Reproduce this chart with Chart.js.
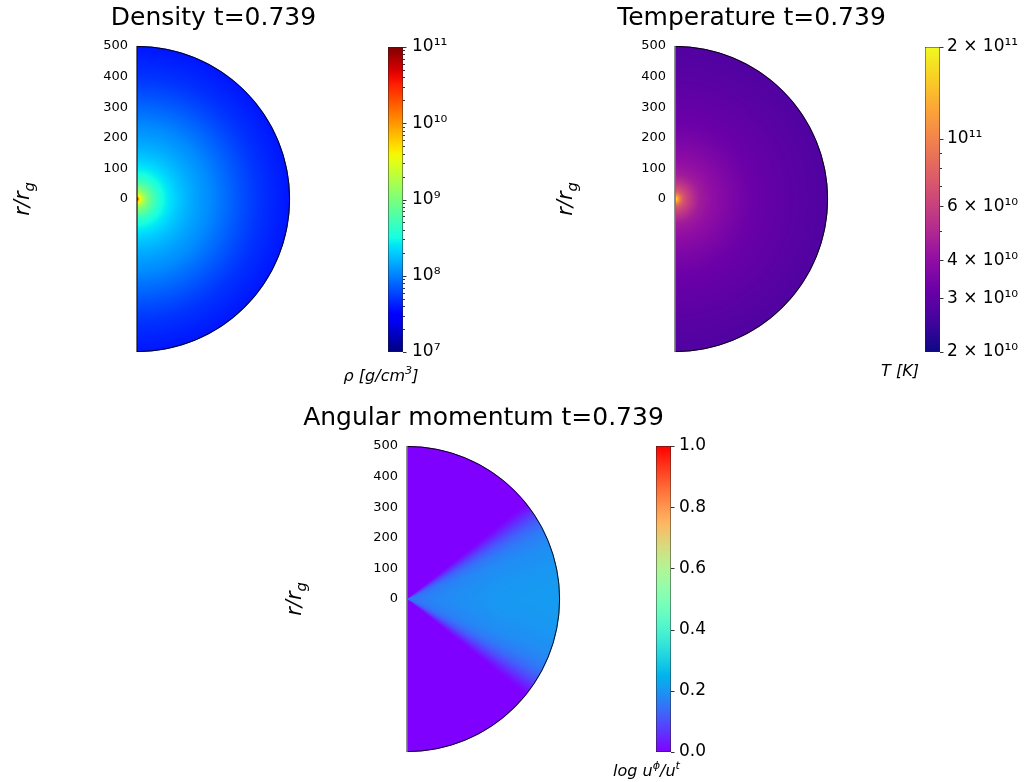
<!DOCTYPE html>
<html lang="en">

<head>
    <meta charset="UTF-8">
    <title>Density / Temperature / Angular momentum t=0.739</title>
    <style>
        body {
            margin: 0;
            background: #fff;
            width: 1030px;
            height: 782px;
            position: relative;
            overflow: hidden;
        }

        canvas {
            position: absolute;
            left: 0;
            top: 0;
        }
    </style>
</head>

<body>

    <canvas id="rhoMap" width="1030" height="782"></canvas>
    <canvas id="rhoBar" width="1030" height="782"></canvas>
    <canvas id="tMap" width="1030" height="782"></canvas>
    <canvas id="tBar" width="1030" height="782"></canvas>
    <canvas id="lMap" width="1030" height="782"></canvas>
    <canvas id="lBar" width="1030" height="782"></canvas>

    <script src="https://cdn.jsdelivr.net/npm/chart.js"></script>

    <script>
        // 반지름 눈금 (r/r_g)
        const radiusTicks = [0, 100, 200, 300, 400, 500];

        // 밀도 반경 분포 (r, rho [g/cm^3])
        const densityRadii = [1, 3, 10, 23, 50, 80, 130, 240, 300, 400, 500];
        const densityValues = [8e10, 2.5e10, 4e9, 1.6e9, 6.3e8, 3.3e8, 2e8, 1.1e8, 8e7, 5e7, 3.8e7];

        // 온도 반경 분포 (r, T [K])
        const tempRadii = [1, 3, 10, 25, 50, 80, 150, 250, 500];
        const tempValues = [2e11, 1.85e11, 1.26e11, 7.4e10, 5.6e10, 4.5e10, 3.8e10, 3.2e10, 2.75e10];

        // 각운동량: 적도로부터의 위도(도) 분포와 반경 계수
        const momentumAngles = [0, 10, 20, 26, 30, 33, 36, 38, 39, 90];
        const momentumValues = [0.21, 0.205, 0.19, 0.165, 0.13, 0.09, 0.04, 0.01, 0, 0];
        const momentumRadii = [0, 100, 200, 300, 500];
        const momentumScale = [0.7, 0.85, 0.92, 0.97, 1.0];

        // 컬러바 눈금
        const densityTicks = [1e7, 1e8, 1e9, 1e10, 1e11];
        const densityTickLabels = ['10⁷', '10⁸', '10⁹', '10¹⁰', '10¹¹'];
        const tempTicks = [2e10, 3e10, 4e10, 6e10, 1e11, 2e11];
        const tempTickLabels = ['2 × 10¹⁰', '3 × 10¹⁰', '4 × 10¹⁰', '6 × 10¹⁰', '10¹¹', '2 × 10¹¹'];
        const tempMinorTicks = [5e10, 7e10, 8e10, 9e10];
        const momentumTicks = [0, 0.2, 0.4, 0.6, 0.8, 1.0];
        const momentumTickLabels = ['0.0', '0.2', '0.4', '0.6', '0.8', '1.0'];

        const FONT = '"DejaVu Sans", "Liberation Sans", sans-serif';
        const PAGE_W = 1030, PAGE_H = 782;

        function lerpTable(xs, ys, v) {
            if (v <= xs[0]) return ys[0];
            if (v >= xs[xs.length - 1]) return ys[ys.length - 1];
            let k = 1;
            while (xs[k] < v) k++;
            const t = (v - xs[k - 1]) / (xs[k] - xs[k - 1]);
            return ys[k - 1] + t * (ys[k] - ys[k - 1]);
        }

        // 컬러맵
        function jet(t) {
            return [
                lerpTable([0, 0.35, 0.66, 0.89, 1], [0, 0, 1, 1, 0.5], t),
                lerpTable([0, 0.125, 0.375, 0.64, 0.91, 1], [0, 0, 1, 1, 0, 0], t),
                lerpTable([0, 0.11, 0.34, 0.65, 1], [0.5, 1, 1, 0, 0], t)
            ].map(v => v * 255);
        }

        const plasmaStops = [0, 0.1, 0.2, 0.3, 0.4, 0.5, 0.6, 0.7, 0.8, 0.9, 1];
        const plasmaRGB = [[13, 8, 135], [65, 4, 157], [106, 0, 168], [143, 13, 164], [177, 42, 144],
            [204, 71, 120], [225, 100, 98], [242, 132, 75], [252, 166, 54], [248, 208, 37], [240, 249, 33]];
        function plasma(t) {
            return [0, 1, 2].map(c => lerpTable(plasmaStops, plasmaRGB.map(p => p[c]), t));
        }

        function rainbow(t) {
            t = Math.min(1, Math.max(0, t));
            return [Math.abs(2 * t - 0.5), Math.sin(Math.PI * t), Math.cos(Math.PI * t / 2)]
                .map(v => Math.min(1, Math.max(0, v)) * 255);
        }

        function rgb(c) {
            return `rgb(${Math.round(c[0])},${Math.round(c[1])},${Math.round(c[2])})`;
        }

        // 차트 영역 위치에 맞춘 여백
        function areaPadding(area, axisW, side) {
            const right = PAGE_W - area.left - area.width;
            const bottom = PAGE_H - area.top - area.height;
            return side === 'left'
                ? { left: area.left - axisW, right: right, top: area.top, bottom: bottom }
                : { left: area.left, right: right - axisW, top: area.top, bottom: bottom };
        }

        // 첨자가 있는 텍스트 (x = 가운데, y = 기준선)
        function drawRich(ctx, parts, x, y, size, style) {
            const fontOf = p => `${style} ${p[1] ? size * 0.7 : size}px ${FONT}`;
            let total = 0;
            parts.forEach(p => { ctx.font = fontOf(p); total += ctx.measureText(p[0]).width; });
            let cx = x - total / 2;
            ctx.textAlign = 'left';
            ctx.textBaseline = 'alphabetic';
            parts.forEach(p => {
                ctx.font = fontOf(p);
                const dy = p[1] === 'sup' ? -size * 0.42 : p[1] === 'sub' ? size * 0.24 : 0;
                ctx.fillText(p[0], cx, y + dy);
                cx += ctx.measureText(p[0]).width;
            });
        }

        // 반원 필드 그리기 (차트 스케일 사용)
        function fieldPlugin(cfg) {
            return {
                id: 'field',
                beforeDatasetsDraw(chart) {
                    const { ctx, chartArea: a, scales: { x, y } } = chart;
                    const w = Math.round(a.right - a.left), h = Math.round(a.bottom - a.top);
                    const off = document.createElement('canvas');
                    off.width = w; off.height = h;
                    const octx = off.getContext('2d');
                    const img = octx.createImageData(w, h);
                    const cx = x.getPixelForValue(0), cy = y.getPixelForValue(0);
                    const R = x.getPixelForValue(500) - cx;
                    for (let j = 0; j < h; j++) {
                        for (let i = 0; i < w; i++) {
                            const px = a.left + i + 0.5, py = a.top + j + 0.5;
                            const cover = Math.min(1, Math.max(0, R - Math.hypot(px - cx, py - cy) + 0.5));
                            if (cover <= 0) continue;
                            const col = cfg.color(x.getValueForPixel(px), y.getValueForPixel(py));
                            const o = (j * w + i) * 4;
                            img.data[o] = col[0];
                            img.data[o + 1] = col[1];
                            img.data[o + 2] = col[2];
                            img.data[o + 3] = Math.round(cover * 255);
                        }
                    }
                    octx.putImageData(img, 0, 0);
                    ctx.drawImage(off, a.left, a.top);

                    ctx.save();
                    ctx.strokeStyle = '#000';
                    ctx.lineWidth = 0.9;
                    ctx.beginPath();
                    ctx.arc(cx, cy, R - 0.4, -Math.PI / 2, Math.PI / 2);
                    ctx.stroke();
                    ctx.strokeStyle = cfg.edge;
                    ctx.lineWidth = cfg.edgeWidth;
                    ctx.beginPath();
                    ctx.moveTo(cx, y.getPixelForValue(500));
                    ctx.lineTo(cx, y.getPixelForValue(-500));
                    ctx.stroke();

                    // 제목과 축 라벨
                    ctx.fillStyle = '#000';
                    ctx.font = `25px ${FONT}`;
                    ctx.textAlign = 'center';
                    ctx.textBaseline = 'alphabetic';
                    ctx.fillText(cfg.title, (a.left + a.right) / 2, a.top - 21);
                    ctx.translate(a.left - cfg.labelOffset, cy);
                    ctx.rotate(-Math.PI / 2);
                    drawRich(ctx, [['r/r', ''], ['g', 'sub']], 0, 6, 21, 'italic');
                    ctx.restore();
                }
            };
        }

        function makeMap(id, cfg) {
            return new Chart(document.getElementById(id), {
                type: 'scatter',
                data: { datasets: [] },
                options: {
                    responsive: false,
                    animation: false,
                    devicePixelRatio: 1,
                    events: [],
                    layout: { padding: areaPadding(cfg.area, 60, 'left') },
                    plugins: { legend: { display: false }, tooltip: { enabled: false } },
                    scales: {
                        x: { type: 'linear', min: 0, max: 500, display: false },
                        y: {
                            type: 'linear', min: -500, max: 500,
                            afterFit: s => { s.width = 60; },
                            afterBuildTicks: s => { s.ticks = radiusTicks.map(v => ({ value: v })); },
                            grid: { display: false, drawTicks: false },
                            border: { display: false },
                            ticks: { font: { family: FONT, size: 13 }, color: '#000', padding: 9, autoSkip: false }
                        }
                    }
                },
                plugins: [fieldPlugin(cfg)]
            });
        }

        function makeBar(id, cfg) {
            return new Chart(document.getElementById(id), {
                type: 'bar',
                data: {
                    labels: [''],
                    datasets: [{
                        data: [[cfg.min, cfg.max]],
                        backgroundColor: c => {
                            const ch = c.chart;
                            if (!ch.chartArea || !ch.scales.y) return '#000';
                            const y = ch.scales.y;
                            const g = ch.ctx.createLinearGradient(0, y.getPixelForValue(cfg.min), 0, y.getPixelForValue(cfg.max));
                            for (let k = 0; k <= 40; k++) g.addColorStop(k / 40, rgb(cfg.cmap(k / 40)));
                            return g;
                        },
                        borderColor: '#222',
                        borderWidth: 0.8,
                        borderSkipped: false,
                        barPercentage: 1,
                        categoryPercentage: 1
                    }]
                },
                options: {
                    responsive: false,
                    animation: false,
                    devicePixelRatio: 1,
                    events: [],
                    layout: { padding: areaPadding(cfg.area, cfg.axisWidth, 'right') },
                    plugins: { legend: { display: false }, tooltip: { enabled: false } },
                    scales: {
                        x: { display: false },
                        y: {
                            type: cfg.type, position: 'right', min: cfg.min, max: cfg.max,
                            afterFit: s => { s.width = cfg.axisWidth; },
                            afterBuildTicks: s => { s.ticks = cfg.ticks.map(v => ({ value: v })); },
                            grid: { display: false, drawTicks: false },
                            border: { display: false },
                            ticks: {
                                font: { family: FONT, size: 17 }, color: '#000', padding: cfg.tickPad, autoSkip: false,
                                callback: (v, i) => cfg.labels[i]
                            }
                        }
                    }
                },
                plugins: [{
                    id: 'cbTicks',
                    afterDatasetsDraw(chart) {
                        const { ctx, chartArea: a, scales: { y } } = chart;
                        ctx.save();
                        ctx.strokeStyle = '#000';
                        ctx.lineWidth = 0.8;
                        const marks = cfg.ticks.map(v => [v, 3.5]).concat(cfg.minor.map(v => [v, 2]));
                        marks.forEach(([v, len]) => {
                            const py = Math.round(y.getPixelForValue(v)) + 0.5;
                            ctx.beginPath();
                            ctx.moveTo(a.right, py);
                            ctx.lineTo(a.right + len, py);
                            ctx.stroke();
                        });
                        ctx.fillStyle = '#000';
                        drawRich(ctx, cfg.title, a.left + cfg.titleDx, a.bottom + cfg.titleDy, 16, 'italic');
                        ctx.restore();
                    }
                }]
            });
        }

        const densityMinor = [];
        for (let n = 7; n < 11; n++) for (let k = 2; k < 10; k++) densityMinor.push(k * Math.pow(10, n));

        makeMap('rhoMap', {
            title: 'Density t=0.739', area: { left: 137, top: 46, width: 153, height: 306 },
            labelOffset: 114, edge: '#111', edgeWidth: 1.2,
            color: (xv, yv) => {
                const r = Math.max(1, Math.hypot(xv, yv));
                const v = Math.exp(lerpTable(densityRadii.map(Math.log), densityValues.map(Math.log), Math.log(r)));
                return jet((Math.log10(v) - 7) / 4);
            }
        });

        makeMap('tMap', {
            title: 'Temperature t=0.739', area: { left: 675, top: 46, width: 153, height: 306 },
            labelOffset: 109, edge: '#777', edgeWidth: 1.6,
            color: (xv, yv) => {
                const r = Math.max(1, Math.hypot(xv, yv));
                const v = Math.exp(lerpTable(tempRadii.map(Math.log), tempValues.map(Math.log), Math.log(r)));
                return plasma(Math.log10(v / 2e10));
            }
        });

        makeMap('lMap', {
            title: 'Angular momentum t=0.739', area: { left: 407, top: 446, width: 153, height: 306 },
            labelOffset: 112, edge: '#777', edgeWidth: 1.6,
            color: (xv, yv) => {
                const lat = Math.atan2(Math.abs(yv), Math.max(xv, 1e-6)) * 180 / Math.PI;
                const v = lerpTable(momentumAngles, momentumValues, lat) *
                    lerpTable(momentumRadii, momentumScale, Math.hypot(xv, yv));
                return rainbow(v);
            }
        });

        makeBar('rhoBar', {
            type: 'logarithmic', min: 1e7, max: 1e11, cmap: jet,
            ticks: densityTicks, labels: densityTickLabels, minor: densityMinor,
            area: { left: 388, top: 47, width: 15, height: 305 }, axisWidth: 100, tickPad: 9,
            title: [['ρ [g/cm', ''], ['3', 'sup'], [']', '']], titleDx: -7, titleDy: 29
        });

        makeBar('tBar', {
            type: 'logarithmic', min: 2e10, max: 2e11, cmap: plasma,
            ticks: tempTicks, labels: tempTickLabels, minor: tempMinorTicks,
            area: { left: 925, top: 47, width: 15, height: 305 }, axisWidth: 90, tickPad: 7,
            title: [['T [K]', '']], titleDx: -25, titleDy: 24
        });

        makeBar('lBar', {
            type: 'linear', min: 0, max: 1, cmap: rainbow,
            ticks: momentumTicks, labels: momentumTickLabels, minor: [],
            area: { left: 656, top: 446, width: 15, height: 306 }, axisWidth: 100, tickPad: 8,
            title: [['log u', ''], ['ϕ', 'sup'], ['/u', ''], ['t', 'sup']], titleDx: -9.5, titleDy: 24
        });
    </script>

</body>

</html>
